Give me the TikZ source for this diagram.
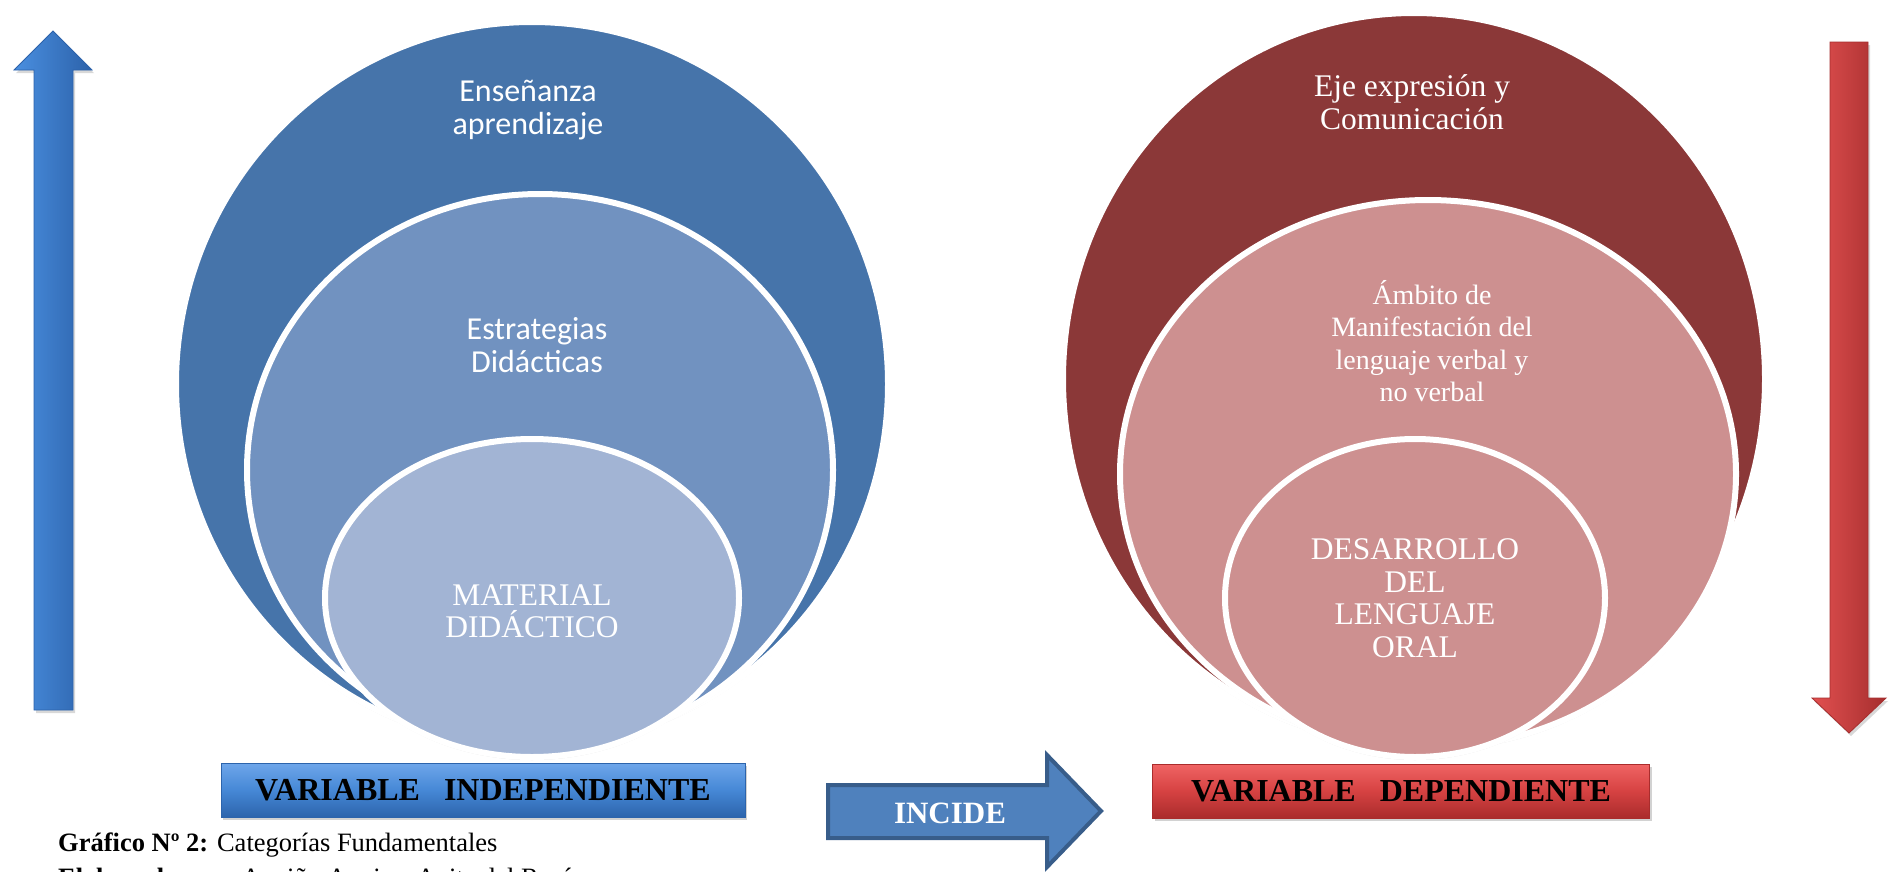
\documentclass[tikz,border=0pt]{standalone}
\usepackage{fontspec}
\setmainfont{Liberation Serif}
\newfontfamily\calib{Carlito}
\usetikzlibrary{shapes.geometric,shadows}
\definecolor{bOut}{RGB}{70,116,170}
\definecolor{bMid}{RGB}{113,146,192}
\definecolor{bIn}{RGB}{162,180,212}
\definecolor{rOut}{RGB}{139,56,56}
\definecolor{rMid}{RGB}{205,144,144}
\definecolor{arrBl}{RGB}{74,143,224}
\definecolor{arrBd}{RGB}{44,98,170}
\definecolor{arrRl}{RGB}{226,80,80}
\definecolor{arrRd}{RGB}{165,46,46}
\definecolor{incF}{RGB}{79,129,189}
\definecolor{incD}{RGB}{56,93,138}
\definecolor{boxBt}{RGB}{110,166,234}
\definecolor{boxBm}{RGB}{70,136,214}
\definecolor{boxBb}{RGB}{44,100,172}
\definecolor{boxRt}{RGB}{240,100,100}
\definecolor{boxRm}{RGB}{214,66,66}
\definecolor{boxRb}{RGB}{170,44,44}
\begin{document}
\begin{tikzpicture}[x=1pt,y=-1pt,
  bubble/.style={ellipse, draw=white, line width=6pt, inner sep=0pt,
    drop shadow={opacity=0.22, shadow xshift=0pt, shadow yshift=-3pt}},
  ctext/.style={text=white, align=center, inner sep=0pt},
  sansfont/.style={font=\calib\fontsize{32}{33}\selectfont},
  seriffont/.style={font=\fontsize{31.5}{32.5}\selectfont},
  midfont/.style={font=\fontsize{28}{32.5}\selectfont},
  varbox/.style={rectangle, inner sep=0pt, minimum height=54pt,
    font=\bfseries\fontsize{32}{34}\selectfont, text=black,
    drop shadow={opacity=0.35, shadow xshift=2pt, shadow yshift=-3pt}},
  bigarrow/.style={drop shadow={opacity=0.3, shadow xshift=2pt, shadow yshift=-3pt}}
]
\useasboundingbox (0,0) rectangle (1893,871);
\fill[white] (0,0) rectangle (1893,871);

% ---------- blue nested bubbles ----------
\node[bubble, fill=bOut, minimum width=712pt, minimum height=724pt] (bo) at (532,384) {};
\node[bubble, fill=bMid, minimum width=586pt, minimum height=552pt] (bm) at (540,470) {};
\node[bubble, fill=bIn, minimum width=414pt, minimum height=318pt] (bi) at (532,598) {};
\node[ctext, sansfont] (tbo) at (528,110) {Enseñanza\\aprendizaje};
\node[ctext, sansfont] (tbm) at (537,345) {Estrategias\\Didácticas};
\node[ctext, seriffont] (tbi) at (532,611) {MATERIAL\\DIDÁCTICO};

% ---------- red nested bubbles ----------
\node[bubble, fill=rOut, minimum width=702pt, minimum height=732pt] (ro) at (1414,379) {};
\node[bubble, fill=rMid, minimum width=616pt, minimum height=548pt] (rm) at (1428,474) {};
\node[bubble, fill=rMid, minimum width=380pt, minimum height=318pt] (ri) at (1415,598) {};
\node[ctext, seriffont] (tro) at (1412,102) {Eje expresión y\\Comunicación};
\node[ctext, midfont] (trm) at (1432,341) {Ámbito de\\Manifestación del\\lenguaje verbal y\\no verbal};
\node[ctext, seriffont] (tri) at (1415,598) {DESARROLLO\\DEL\\LENGUAJE\\ORAL};

% ---------- vertical arrows ----------
\path[bigarrow, left color=arrBl, right color=arrBd, draw=arrBd, line width=0.8pt]
  (53,31) -- (92,70) -- (73,70) -- (73,710) -- (34,710) -- (34,70) -- (14,70) -- cycle;
\path[bigarrow, left color=arrRl, right color=arrRd, draw=arrRd, line width=0.8pt]
  (1830,42) -- (1868,42) -- (1868,698) -- (1886,698) -- (1849,733) -- (1812,698) -- (1830,698) -- cycle;

% ---------- variable boxes ----------
\node[varbox, minimum width=524pt, top color=boxBt, bottom color=boxBb, middle color=boxBm,
  draw=boxBb, line width=0.8pt] (vi) at (483,790) {VARIABLE\ \ \ INDEPENDIENTE};
\node[varbox, minimum width=497pt, top color=boxRt, bottom color=boxRb, middle color=boxRm,
  draw=boxRb, line width=0.8pt] (vd) at (1401,791) {VARIABLE\ \ \ DEPENDIENTE};

% ---------- INCIDE arrow ----------
\path[fill=incF, draw=incD, line width=4pt, line join=miter]
  (828,785) -- (1047,785) -- (1047,755) -- (1101,811) -- (1047,867) -- (1047,838) -- (828,838) -- cycle;
\node[ctext, font=\bfseries\fontsize{31}{33}\selectfont] (inc) at (950,813) {INCIDE};

% ---------- caption ----------
\node[anchor=base west, inner sep=0pt, font=\fontsize{26.5}{28}\selectfont] (cap1) at (58,851)
  {\textbf{Gráfico Nº 2:} Categorías Fundamentales};
\node[anchor=base west, inner sep=0pt, font=\fontsize{26.5}{28}\selectfont] (cap2) at (58,886)
  {\textbf{Elaborado por:} Aguiño Aguirre Anita del Rocío};
\end{tikzpicture}
\end{document}
